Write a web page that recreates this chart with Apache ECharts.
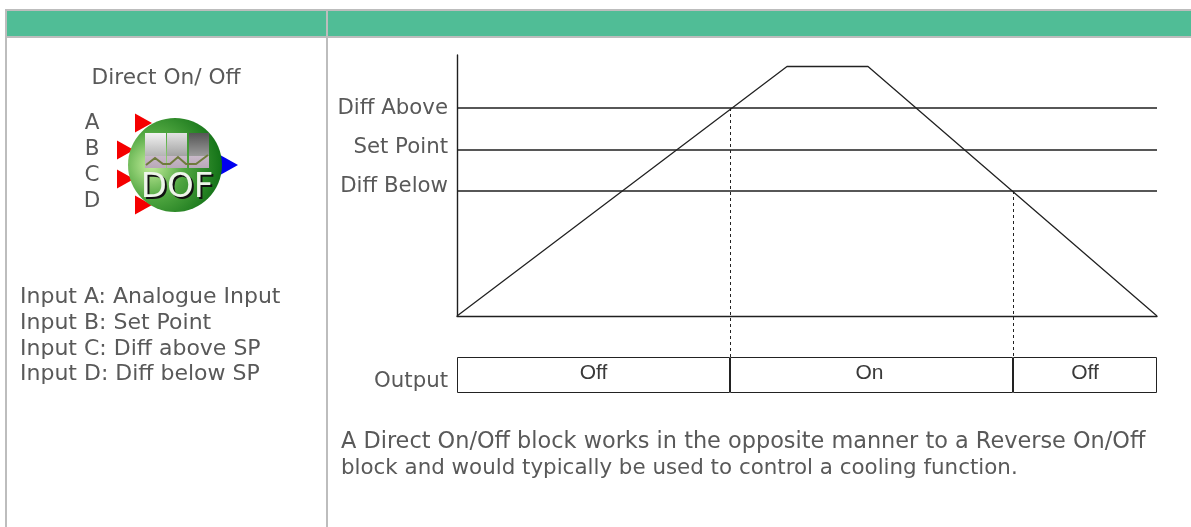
<!DOCTYPE html>
<html>
<head>
<meta charset="utf-8">
<style>
html, body { margin: 0; padding: 0; background: #fff; }
#chart { width: 1191px; height: 527px; }
</style>
<script src="https://cdn.jsdelivr.net/npm/echarts@6/dist/echarts.min.js"></script>
</head>
<body>
<div id="chart"></div>
<script>
// values, x runs 0-700 and y 0-261 along the plot
const traceX = [0, 330, 411, 700]
const traceY = [0, 249.5, 249.5, 0]
const levelValues = [125, 166, 208]
const labelNames = ['Diff Below', 'Set Point', 'Diff Above']
// the labels do not sit exactly on their lines in the original
const labelValues = [130, 169, 208]
const switchOn = 273.5
const switchOff = 556.5
const outputBottom = -41
const outputStates = ['Off', 'On', 'Off']
const outputWidths = [273, 283, 144]
const inputLetters = ['A', 'B', 'C', 'D']
const inputNotes = ['Input A: Analogue Input', 'Input B: Set Point', 'Input C: Diff above SP', 'Input D: Diff below SP']
const noteLines = [
    'A Direct On/Off block works in the opposite manner to a Reverse On/Off',
    'block and would typically be used to control a cooling function.'
]
const noteSizes = [22.4, 21.4]

const textColor = '#595959'
const textFont = 'DejaVu Sans'
const lineColor = '#1f1f1f'
const frameColor = '#bdbdbd'

function pageText(text, x, y, align, size) {
    return {
        type: 'text',
        style: { text, x, y, align: align || 'left', verticalAlign: 'middle', fill: textColor, font: `${size}px "${textFont}"` }
    }
}

function frameRect(x, y, width, height, fill) {
    return { type: 'rect', shape: { x, y, width, height }, style: { fill }, z: 0 }
}

function arrow(x, y, fill) {
    return {
        type: 'polygon',
        shape: { points: [[x, y - 9.5], [x + 17, y], [x, y + 9.5]] },
        style: { fill },
        z: 5
    }
}

function panel(x, width, from, to) {
    return {
        type: 'rect',
        shape: { x, y: 133, width, height: 35 },
        style: {
            fill: new echarts.graphic.LinearGradient(0, 0, 0, 1, [
                { offset: 0, color: from },
                { offset: 0.65, color: to },
                { offset: 0.66, color: '#c9b9c9' },
                { offset: 1, color: '#b8a8b8' }
            ])
        },
        z: 7
    }
}

const iconParts = [
    arrow(135, 123, '#f50000'),
    arrow(117, 150, '#f50000'),
    arrow(117, 179, '#f50000'),
    arrow(135, 205, '#f50000'),
    arrow(221, 165, '#0000f0'),
    {
        type: 'circle',
        shape: { cx: 175, cy: 165, r: 47 },
        style: {
            fill: new echarts.graphic.RadialGradient(0.25, 0.5, 0.8, [
                { offset: 0, color: '#c4ee9c' },
                { offset: 0.45, color: '#4ea53f' },
                { offset: 1, color: '#0b6b12' }
            ])
        },
        z: 6
    },
    panel(145, 21, '#f2f2f2', '#b5b5b5'),
    panel(167, 20, '#e2e2e2', '#a3a3a3'),
    panel(189, 20, '#555555', '#9a9a9a'),
    {
        type: 'polyline',
        shape: { points: [[146, 165], [155, 158], [163, 164], [170, 164], [178, 157], [186, 164], [196, 164], [208, 155]] },
        style: { stroke: '#6f7a3c', lineWidth: 2, fill: 'none' },
        z: 8
    },
    {
        type: 'text',
        style: { text: 'DOF', x: 179, y: 190, align: 'center', verticalAlign: 'middle', fill: '#111', font: '34px "DejaVu Sans"' },
        z: 8
    },
    {
        type: 'text',
        style: { text: 'DOF', x: 177, y: 188, align: 'center', verticalAlign: 'middle', fill: '#eef5ea', font: '34px "DejaVu Sans"' },
        z: 9
    }
]

const option = {
    animation: false,
    backgroundColor: '#fff',
    graphic: [
        frameRect(6, 11, 1185, 25, '#50bd96'),
        frameRect(5, 9, 1186, 2, frameColor),
        frameRect(5, 36, 1186, 2, frameColor),
        frameRect(5, 9, 2, 518, frameColor),
        frameRect(326, 9, 2, 518, frameColor),
        pageText('Direct On/ Off', 166, 78, 'center', 21.7),
        ...inputLetters.map((letter, i) => pageText(letter, 92, 123 + i * 26, 'center', 21.5)),
        ...inputNotes.map((note, i) => pageText(note, 20, 297.5 + i * 25.7, 'left', 22)),
        ...noteLines.map((line, i) => pageText(line, 341, 442.5 + i * 26, 'left', noteSizes[i])),
        ...iconParts
    ],
    grid: [
        { left: 457, top: 55, width: 700, height: 261 },
        { left: 457, top: 357, width: 700, height: 36 }
    ],
    xAxis: [
        {
            type: 'value', gridIndex: 0, min: 0, max: 700,
            axisLine: { show: true, lineStyle: { color: lineColor, width: 1.4 } },
            axisTick: { show: false }, axisLabel: { show: false }, splitLine: { show: false }
        },
        {
            type: 'value', gridIndex: 1, min: 0, max: 700, show: false
        }
    ],
    yAxis: [
        {
            type: 'value', gridIndex: 0, min: 0, max: 261,
            axisLine: { show: true, lineStyle: { color: lineColor, width: 1.4 } },
            axisTick: { show: false }, splitLine: { show: false },
            axisLabel: {
                customValues: labelValues,
                formatter: (v) => labelNames[labelValues.indexOf(v)],
                color: textColor, fontFamily: textFont, fontSize: 21.3, margin: 9
            }
        },
        {
            type: 'category', gridIndex: 1, data: ['Output'],
            axisLine: { show: false }, axisTick: { show: false },
            axisLabel: { color: textColor, fontFamily: textFont, fontSize: 21.3, margin: 9, verticalAlign: 'top', lineHeight: 12 }
        }
    ],
    series: [
        ...levelValues.map((v) => ({
            type: 'line', xAxisIndex: 0, yAxisIndex: 0, symbol: 'none',
            lineStyle: { color: lineColor, width: 1.4 },
            data: [[0, v], [700, v]]
        })),
        {
            type: 'line', xAxisIndex: 0, yAxisIndex: 0, symbol: 'none',
            lineStyle: { color: '#222', width: 1.3 },
            data: traceX.map((x, i) => [x, traceY[i]])
        },
        ...[[switchOn, levelValues[2]], [switchOff, levelValues[0]]].map(([x, top]) => ({
            type: 'line', xAxisIndex: 0, yAxisIndex: 0, symbol: 'none', clip: false,
            lineStyle: { color: '#222', width: 1, type: [3, 3] },
            data: [[x, top], [x, outputBottom]]
        })),
        ...outputWidths.map((w, i) => ({
            type: 'bar', xAxisIndex: 1, yAxisIndex: 1, stack: 'output', barWidth: '100%',
            itemStyle: { color: '#fff', borderColor: '#222', borderWidth: 1 },
            label: {
                show: true, position: 'inside', offset: [i === 1 ? -2 : 0, -2], formatter: outputStates[i],
                color: '#3a3a3a', fontFamily: 'Liberation Sans', fontSize: 21
            },
            data: [w]
        }))
    ]
}

const chart = echarts.init(document.getElementById('chart'), null, { renderer: 'canvas' })
chart.setOption(option)
</script>
</body>
</html>
